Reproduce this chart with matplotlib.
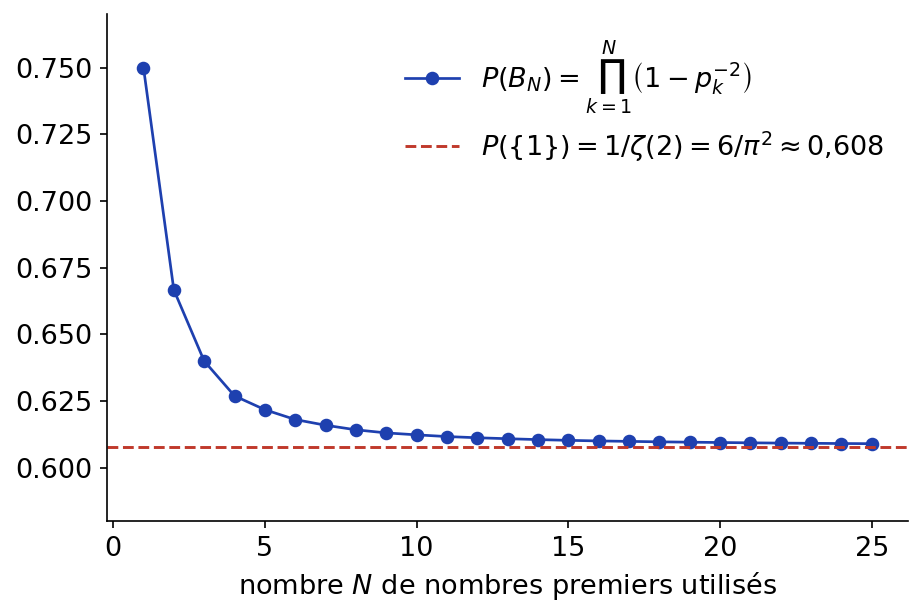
import matplotlib
matplotlib.use("Agg")
import matplotlib.pyplot as plt

# number of primes used
n_primes = list(range(1, 26))
# partial products P(B_N)
p_bn = [0.75000, 0.66667, 0.64000, 0.62694, 0.62176, 0.61808, 0.61594,
        0.61423, 0.61307, 0.61234, 0.61170, 0.61125, 0.61089, 0.61056,
        0.61028, 0.61006, 0.60989, 0.60972, 0.60959, 0.60947, 0.60935,
        0.60925, 0.60917, 0.60909, 0.60903]
limit = 0.60793

blue = "#1e40af"
red = "#c0392b"

plt.rcParams["font.size"] = 13
fig, ax = plt.subplots(figsize=(923 / 150, 616 / 150), dpi=150)

ax.plot(n_primes, p_bn, "-o", color=blue, lw=1.3, ms=5.5,
        label=r"$P(B_N) = \prod_{k=1}^{N}\left(1 - p_k^{-2}\right)$")
ax.axhline(limit, color=red, ls="--", lw=1.4,
           label=r"$P(\{1\}) = 1/\zeta(2) = 6/\pi^2 \approx 0{,}608$")

ax.set_ylim(0.580, 0.770)
ax.set_yticks([0.600, 0.625, 0.650, 0.675, 0.700, 0.725, 0.750])
ax.set_xlabel(r"nombre $N$ de nombres premiers utilisés")
for s in ["top", "right"]:
    ax.spines[s].set_visible(False)
ax.legend(frameon=False, loc="upper right", fontsize=13)

fig.subplots_adjust(left=0.116, right=0.984, top=0.977, bottom=0.154)
fig.savefig("out.png", dpi=150)
